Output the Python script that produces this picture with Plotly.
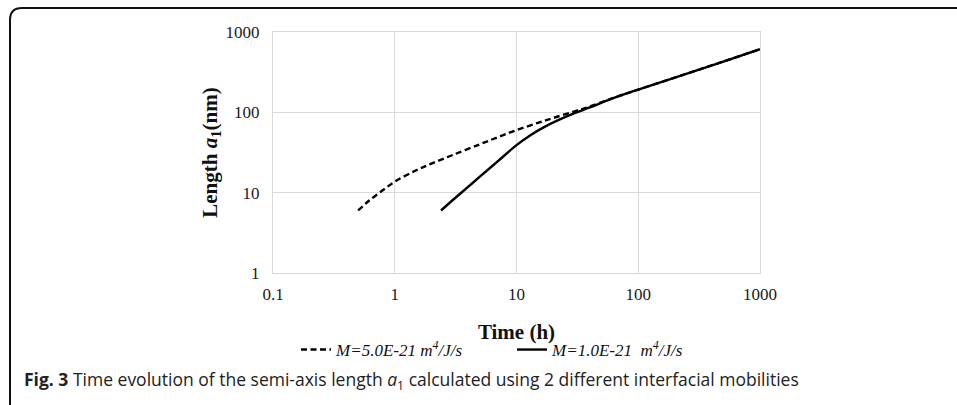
import plotly.graph_objects as go

# Semi-axis length a1 (nm) versus time (h) for two interfacial mobilities
time_fast = [0.5, 0.6, 0.75, 1, 1.5, 2, 3, 5, 7, 10, 15, 20, 30, 40, 60, 100, 200, 500, 1000]
a1_fast = [6, 7.7, 10, 13.7, 19, 23, 29.5, 40, 49, 60, 74, 85, 103, 118, 148, 192, 271, 429, 610]

time_slow = [2.4, 3, 4, 5, 7, 10, 13, 17, 22, 30, 40, 60, 100, 200, 500, 1000]
a1_slow = [6, 8.1, 11.8, 15.8, 24.5, 39, 52, 66, 80, 98, 115, 147, 192, 271, 429, 610]

name_fast = "<i>M=5.0E-21 m<sup>4</sup>/J/s</i>"
name_slow = "<i>M=1.0E-21\u00a0 m<sup>4</sup>/J/s</i>"

x_ticks = [0.1, 1, 10, 100, 1000]
x_tick_text = ["0.1", "1", "10", "100", "1000"]
y_ticks = [1, 10, 100, 1000]
y_tick_text = ["1", "10", "100", "1000"]

W, H = 957, 405
L, R, T, B = 273, 197, 32, 132
pw, ph = W - L - R, H - T - B


def px(x):
    return (x - L) / pw


def py(y):
    return (H - B - y) / ph


fig = go.Figure()
fig.add_trace(go.Scatter(x=time_fast, y=a1_fast, mode="lines", name=name_fast,
                         line=dict(color="black", width=2.4, dash="6px,3.5px", shape="spline")))
fig.add_trace(go.Scatter(x=time_slow, y=a1_slow, mode="lines", name=name_slow,
                         line=dict(color="black", width=2.4, shape="spline")))

grid = "#d9d9d9"
serif = "Liberation Serif"
fig.update_xaxes(type="log", range=[-1, 3], tickvals=x_ticks, ticktext=x_tick_text,
                 showgrid=True, gridcolor=grid, gridwidth=1, showline=True, linecolor=grid,
                 mirror=True, zeroline=False, ticks="", ticklabelstandoff=6,
                 tickfont=dict(family=serif, size=17, color="#1a1a1a"),
                 title=dict(text="<b>Time (h)</b>", font=dict(family=serif, size=21, color="#111"),
                            standoff=20))
fig.update_yaxes(type="log", range=[0, 3], tickvals=y_ticks, ticktext=y_tick_text,
                 showgrid=True, gridcolor=grid, gridwidth=1, showline=True, linecolor=grid,
                 mirror=True, zeroline=False, ticks="", ticklabelstandoff=9,
                 tickfont=dict(family=serif, size=17, color="#1a1a1a"),
                 title=dict(text="<b>Length <i>a</i><sub>1</sub>(nm)</b>",
                            font=dict(family=serif, size=21, color="#111"), standoff=2))

# rounded frame around the figure
r = 12
x0, y0, x1, y1 = 10, 8, 970, 420
path = (f"M {px(x0)},{py(y1)} L {px(x0)},{py(y0 + r)} "
        f"Q {px(x0)},{py(y0)} {px(x0 + r)},{py(y0)} "
        f"L {px(x1)},{py(y0)}")
fig.add_shape(type="path", xref="paper", yref="paper", path=path,
              line=dict(color="#111", width=2))

fig.add_annotation(xref="paper", yref="paper", x=px(22), y=py(380), xanchor="left",
                   yanchor="middle", showarrow=False, align="left",
                   text="<b>Fig. 3</b> Time evolution of the semi-axis length "
                        "<i>a</i><sub>1</sub> calculated using 2 different interfacial mobilities",
                   font=dict(family="Open Sans", size=17.5, color="#222"))

fig.update_layout(width=W, height=H, margin=dict(l=L, r=R, t=T, b=B),
                  paper_bgcolor="white", plot_bgcolor="white",
                  legend=dict(orientation="h", x=px(272), y=py(350), xanchor="left",
                              yanchor="middle", font=dict(family=serif, size=17, color="#111"),
                              entrywidth=147, entrywidthmode="pixels", indentation=24,
                              tracegroupgap=0, bgcolor="rgba(0,0,0,0)"))

fig.write_html("out.html")
